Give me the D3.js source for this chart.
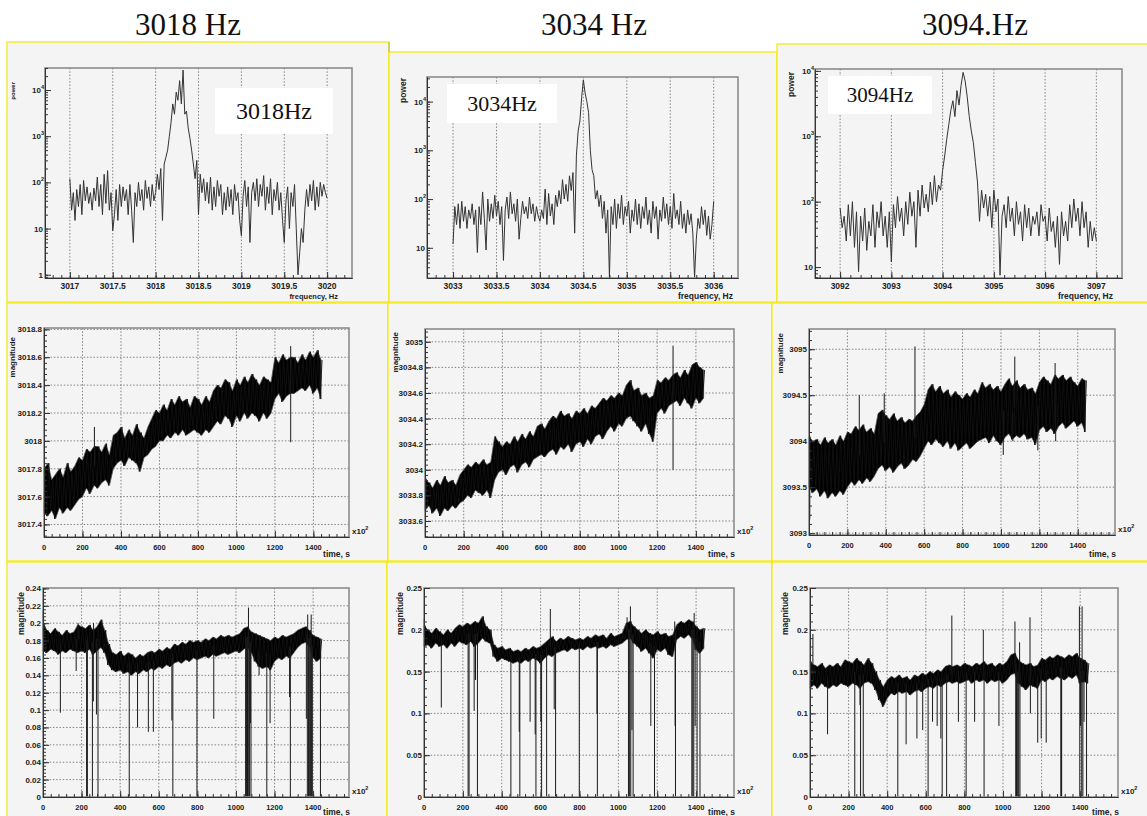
<!DOCTYPE html>
<html><head><meta charset="utf-8">
<script src="https://cdn.jsdelivr.net/npm/d3@7"></script>
<style>
body{margin:0;background:#fff;}
svg text{font-family:"Liberation Sans",Arial,sans-serif;}
</style></head><body>
<script>
// ---------------- DATA ----------------
const titles = ["3018 Hz", "3034 Hz", "3094.Hz"];
const boxLabels = ["3018Hz", "3034Hz", "3094Hz"];

// power spectra (equally spaced frequency bins)
const spec1Start = 3017.0, spec1Step = 0.02;
const spec1 = [120,25,60,15,70,30,90,20,110,40, 80,35,60,25,75,40,130,30,90,20,
 150,35,180,25,60,9,20,70,15,90, 30,80,40,70,20,90,25,5,60,30,
 100,40,70,25,110,45,80,30,90,40, 60,150,70,200,15,250,350,500,1000,2000,
 5000,3000,9000,6000,16000,5000,27000,3000,3500,1500, 900,500,250,120,300,20,150,60,120,40,
 100,35,130,25,80,30,110,50,90,20, 60,25,80,30,70,20,90,40,60,15,
 7,50,110,30,80,5,60,100,40,120, 30,90,50,140,25,80,35,120,20,70,
 40,100,25,60,15,5,40,80,10,60, 30,90,10,1,3,10,5,25,70,30,
 90,40,110,25,80,30,100,50,90,60, 45];
const spec2Start = 3033.0, spec2Step = 0.02;
const spec2 = [12,70,30,80,25,90,35,70,25,60, 40,80,30,60,8,70,30,140,40,9,
 100,35,80,40,120,45,90,30,70,5.5, 60,110,40,140,50,80,35,100,15,40,
 90,50,70,40,110,50,80,35,70,45, 35,60,40,160,30,130,45,80,30,120,
 70,150,80,250,100,200,90,300,150,350, 20,800,2500,4000,12000,28000,15000,10000,6000,1000,
 400,300,100,150,70,120,40,90,20,60, 2.5,70,30,100,25,80,40,120,30,70,
 45,90,20,60,35,100,30,80,25,70, 40,110,30,60,20,90,40,70,15,60,
 35,110,40,80,30,70,25,130,40,60, 30,90,25,50,20,60,30,50,20,2.5,
 15,40,25,70,30,60,18,45,15,30, 90];
const spec3Start = 3092.0, spec3Step = 0.04;
const spec3 = [80,40,60,25,90,30,100,20,70,8.5, 60,25,80,18,50,30,90,20,70,40,
 100,30,60,20,70,12,90,40,120,50, 80,30,100,45,140,60,100,20,150,60,
 180,80,130,70,200,90,250,100,180,150, 300,500,900,1500,2500,3500,2000,5000,3000,6000,
 9500,7000,4000,2000,1200,800,400,200,50,150, 80,130,60,120,40,150,70,110,7.5,60,
 90,40,120,50,80,30,100,45,70,25, 90,40,80,30,60,45,70,30,90,50,
 60,25,80,35,50,20,60,11,70,30, 50,25,90,40,110,50,80,30,100,40,
 70,20,50,25,40,25];

// time bins (x100 s) and band envelopes (low / high) per bin
const timeBins = d3.range(0, 1441, 20);
const f1Hi = [3017.80,3017.84,3017.72,3017.76,3017.80,3017.74,3017.84,3017.78,3017.82,3017.88,
3017.86,3017.94,3017.92,3017.96,3017.96,3017.92,3017.98,3017.90,3018.04,3018.06,
3018.10,3018.02,3018.08,3018.04,3018.12,3018.06,3018.02,3018.10,3018.16,3018.22,
3018.20,3018.26,3018.22,3018.30,3018.26,3018.32,3018.28,3018.30,3018.24,3018.32,
3018.30,3018.26,3018.32,3018.28,3018.36,3018.40,3018.38,3018.44,3018.42,3018.36,
3018.44,3018.40,3018.46,3018.42,3018.48,3018.44,3018.40,3018.46,3018.44,3018.42,
3018.60,3018.56,3018.62,3018.58,3018.60,3018.60,3018.56,3018.62,3018.58,3018.64,
3018.60,3018.65,3018.58];
const f1Lo = [3017.48,3017.46,3017.50,3017.44,3017.52,3017.48,3017.52,3017.50,3017.54,3017.58,
3017.60,3017.66,3017.62,3017.68,3017.66,3017.70,3017.72,3017.68,3017.80,3017.84,
3017.86,3017.82,3017.88,3017.86,3017.84,3017.78,3017.88,3017.90,3017.94,3017.96,
3018.00,3018.00,3018.04,3018.02,3018.06,3018.04,3018.08,3018.04,3018.06,3018.08,
3018.06,3018.04,3018.08,3018.06,3018.10,3018.14,3018.12,3018.18,3018.16,3018.10,
3018.18,3018.14,3018.20,3018.16,3018.20,3018.18,3018.14,3018.20,3018.16,3018.20,
3018.30,3018.34,3018.28,3018.32,3018.34,3018.34,3018.36,3018.38,3018.36,3018.40,
3018.34,3018.38,3018.30];
const f1Spikes = [[262,3018.10],[1282,3017.99],[1282,3018.68]];

const f2Hi = [3033.93,3033.90,3033.86,3033.92,3033.88,3033.95,3033.90,3033.92,3033.88,3033.96,
3034.00,3034.04,3034.02,3034.06,3034.04,3034.08,3034.04,3034.06,3034.26,3034.22,
3034.18,3034.22,3034.20,3034.26,3034.22,3034.28,3034.24,3034.30,3034.26,3034.34,
3034.36,3034.32,3034.38,3034.42,3034.40,3034.46,3034.42,3034.44,3034.40,3034.46,
3034.44,3034.48,3034.44,3034.50,3034.48,3034.52,3034.56,3034.54,3034.58,3034.56,
3034.60,3034.58,3034.66,3034.70,3034.62,3034.64,3034.58,3034.60,3034.56,3034.58,
3034.70,3034.68,3034.72,3034.70,3034.74,3034.76,3034.72,3034.78,3034.74,3034.82,
3034.84,3034.80,3034.78];
const f2Lo = [3033.68,3033.72,3033.66,3033.70,3033.64,3033.70,3033.68,3033.72,3033.70,3033.74,
3033.76,3033.80,3033.78,3033.84,3033.82,3033.80,3033.84,3033.78,3033.92,3033.98,
3034.00,3033.96,3034.02,3034.04,3033.98,3034.04,3034.06,3034.02,3034.08,3034.10,
3034.12,3034.10,3034.14,3034.16,3034.12,3034.18,3034.16,3034.20,3034.14,3034.20,
3034.22,3034.18,3034.24,3034.20,3034.26,3034.28,3034.24,3034.30,3034.34,3034.30,
3034.36,3034.34,3034.40,3034.42,3034.38,3034.34,3034.30,3034.36,3034.28,3034.22,
3034.44,3034.48,3034.44,3034.50,3034.52,3034.54,3034.50,3034.56,3034.52,3034.48,
3034.56,3034.52,3034.56];
const f2Spikes = [[1282,3034.0],[1282,3034.97]];

const f3Hi = [3094.05,3094.00,3094.02,3093.96,3094.04,3093.98,3094.02,3093.96,3094.06,3094.00,
3094.10,3094.08,3094.16,3094.12,3094.18,3094.10,3094.14,3094.08,3094.30,3094.34,
3094.28,3094.24,3094.30,3094.22,3094.26,3094.20,3094.24,3094.22,3094.28,3094.32,
3094.40,3094.56,3094.62,3094.54,3094.60,3094.52,3094.56,3094.48,3094.54,3094.50,
3094.46,3094.52,3094.48,3094.56,3094.52,3094.64,3094.58,3094.62,3094.56,3094.60,
3094.54,3094.62,3094.68,3094.60,3094.66,3094.58,3094.62,3094.56,3094.58,3094.52,
3094.64,3094.70,3094.66,3094.62,3094.72,3094.68,3094.72,3094.66,3094.70,3094.64,
3094.60,3094.68,3094.66];
const f3Lo = [3093.50,3093.44,3093.48,3093.40,3093.46,3093.38,3093.44,3093.40,3093.46,3093.42,
3093.50,3093.56,3093.52,3093.58,3093.54,3093.60,3093.56,3093.62,3093.70,3093.74,
3093.68,3093.72,3093.66,3093.72,3093.76,3093.70,3093.74,3093.80,3093.78,3093.84,
3093.92,3094.00,3093.96,3094.02,3093.98,3093.94,3094.00,3093.92,3093.98,3093.90,
3093.94,3093.98,3093.92,3093.96,3094.00,3094.02,3094.04,3093.98,3094.06,3094.00,
3093.96,3094.04,3094.08,3094.02,3094.06,3094.04,3094.08,3094.02,3094.04,3093.96,
3094.12,3094.16,3094.10,3094.14,3094.08,3094.16,3094.20,3094.14,3094.18,3094.22,
3094.16,3094.20,3094.10];
const f3Spikes = [[2,3094.4],[4,3093.15],[262,3094.5],[392,3094.52],[552,3095.03],[1012,3093.85],
 [1062,3094.0],[1072,3094.92],[1192,3093.9],[1282,3094.85],[1285,3094.0]];

const m1Hi = [0.200,0.192,0.188,0.194,0.190,0.186,0.192,0.188,0.190,0.198,
0.196,0.194,0.198,0.192,0.196,0.204,0.192,0.176,0.166,0.164,
0.168,0.162,0.166,0.164,0.160,0.164,0.162,0.166,0.168,0.166,
0.170,0.168,0.172,0.170,0.176,0.174,0.178,0.176,0.180,0.178,
0.180,0.178,0.182,0.180,0.184,0.182,0.186,0.184,0.186,0.184,
0.186,0.188,0.194,0.196,0.190,0.188,0.186,0.184,0.182,0.180,
0.184,0.182,0.186,0.184,0.186,0.188,0.192,0.194,0.196,0.192,
0.186,0.184,0.182];
const m1Lo = [0.168,0.166,0.170,0.168,0.164,0.168,0.166,0.170,0.168,0.166,
0.168,0.166,0.170,0.164,0.168,0.172,0.166,0.152,0.146,0.144,
0.146,0.142,0.144,0.140,0.144,0.142,0.146,0.144,0.148,0.146,
0.150,0.148,0.152,0.150,0.154,0.156,0.154,0.158,0.156,0.160,
0.158,0.160,0.162,0.160,0.164,0.162,0.164,0.166,0.164,0.166,
0.168,0.166,0.170,0.172,0.166,0.156,0.150,0.148,0.150,0.146,
0.156,0.160,0.158,0.162,0.160,0.166,0.172,0.176,0.178,0.174,
0.160,0.156,0.160];
const m1Spikes = [[0,0.215],[90,0.097],[172,0.145],[182,0.2],[226,0],[230,0],[256,0],[261,0.11],[262,0.2],
 [277,0.095],[285,0],[447,0],[490,0.08],[546,0.075],[572,0.075],[668,0.088],[673,0],[798,0],[885,0.09],
 [1050,0],[1055,0],[1060,0],[1065,0.218],[1066,0],[1070,0],[1075,0.085],[1078,0],[1120,0.14],[1160,0],
 [1177,0.085],[1278,0.115],[1282,0],[1365,0.09],[1370,0],[1372,0.21],[1376,0],[1382,0],[1386,0],
 [1390,0.21],[1392,0],[1396,0],[1438,0]];

const m2Hi = [0.205,0.200,0.196,0.202,0.198,0.194,0.200,0.196,0.202,0.206,
0.204,0.208,0.206,0.210,0.208,0.216,0.204,0.200,0.182,0.178,
0.180,0.176,0.178,0.174,0.176,0.174,0.178,0.176,0.180,0.178,
0.180,0.184,0.188,0.192,0.186,0.190,0.188,0.192,0.190,0.188,
0.190,0.188,0.192,0.190,0.194,0.192,0.194,0.190,0.196,0.192,
0.194,0.196,0.208,0.210,0.204,0.200,0.196,0.200,0.196,0.194,
0.198,0.194,0.196,0.192,0.194,0.206,0.210,0.208,0.212,0.210,
0.204,0.200,0.202];
const m2Lo = [0.180,0.182,0.178,0.184,0.180,0.182,0.178,0.184,0.180,0.186,
0.184,0.182,0.186,0.180,0.184,0.190,0.186,0.184,0.168,0.162,
0.166,0.164,0.162,0.160,0.162,0.160,0.164,0.162,0.166,0.164,
0.160,0.166,0.170,0.168,0.172,0.174,0.176,0.174,0.178,0.176,
0.178,0.176,0.180,0.178,0.180,0.178,0.180,0.178,0.182,0.180,
0.182,0.184,0.188,0.190,0.184,0.180,0.174,0.178,0.172,0.166,
0.176,0.174,0.178,0.170,0.168,0.188,0.192,0.190,0.194,0.190,
0.176,0.172,0.178];
const m2Spikes = [[0,0.213],[89,0.107],[227,0],[232,0],[258,0.103],[265,0.14],[275,0],[447,0],[490,0.078],
 [493,0],[546,0.09],[572,0.075],[576,0],[601,0.09],[605,0],[631,0],[650,0.225],[670,0.105],[677,0],
 [799,0],[890,0.1],[892,0],[1045,0.215],[1052,0],[1058,0],[1062,0.228],[1064,0],[1070,0.08],[1076,0],
 [1167,0.085],[1186,0],[1290,0.21],[1292,0.085],[1294,0],[1378,0],[1383,0],[1388,0],[1390,0.22],
 [1395,0.085],[1405,0],[1420,0]];

const m3Hi = [0.162,0.158,0.156,0.160,0.154,0.158,0.156,0.160,0.156,0.164,
0.162,0.160,0.166,0.162,0.158,0.166,0.160,0.150,0.140,0.132,
0.140,0.144,0.142,0.146,0.142,0.144,0.140,0.146,0.144,0.148,
0.146,0.150,0.148,0.152,0.150,0.156,0.158,0.156,0.158,0.156,
0.160,0.158,0.156,0.160,0.158,0.162,0.158,0.160,0.156,0.160,
0.158,0.162,0.170,0.172,0.164,0.160,0.158,0.160,0.156,0.158,
0.166,0.164,0.168,0.166,0.170,0.168,0.166,0.170,0.168,0.172,
0.166,0.164,0.160];
const m3Lo = [0.130,0.134,0.130,0.136,0.132,0.130,0.134,0.132,0.136,0.134,
0.132,0.136,0.134,0.130,0.136,0.138,0.136,0.128,0.116,0.108,
0.118,0.124,0.122,0.126,0.124,0.126,0.122,0.126,0.128,0.126,
0.130,0.132,0.130,0.134,0.132,0.136,0.138,0.136,0.138,0.136,
0.138,0.140,0.136,0.140,0.138,0.140,0.136,0.140,0.138,0.140,
0.136,0.140,0.146,0.148,0.136,0.132,0.128,0.134,0.132,0.130,
0.140,0.138,0.142,0.140,0.144,0.142,0.140,0.144,0.142,0.146,
0.136,0.138,0.136];
const m3Spikes = [[15,0.195],[91,0.075],[232,0],[259,0.11],[262,0],[276,0],[455,0],[498,0.063],[554,0.07],
 [584,0.08],[612,0],[635,0.09],[659,0.085],[678,0.07],[685,0],[708,0],[735,0.217],[769,0.09],[809,0],
 [853,0.09],[898,0.2],[902,0],[979,0.085],[1062,0.21],[1066,0],[1070,0],[1074,0],[1078,0],[1082,0],
 [1086,0.185],[1088,0],[1140,0.215],[1142,0.1],[1180,0.065],[1198,0.07],[1224,0.065],[1300,0],[1302,0],
 [1304,0],[1396,0.228],[1398,0],[1402,0.085],[1408,0],[1410,0.228],[1414,0],[1420,0.09],[1433,0]];

// tick labels
const specTicks1 = [3017,3017.5,3018,3018.5,3019,3019.5,3020];
const specTicks2 = [3033,3033.5,3034,3034.5,3035,3035.5,3036];
const specTicks3 = [3092,3093,3094,3095,3096,3097];
const timeTicks = [0,200,400,600,800,1000,1200,1400];
const fTicks1 = [3017.4,3017.6,3017.8,3018,3018.2,3018.4,3018.6,3018.8];
const fTicks2 = [3033.6,3033.8,3034,3034.2,3034.4,3034.6,3034.8,3035];
const fTicks3 = [3093,3093.5,3094,3094.5,3095];
const mTicks1 = [0,0.02,0.04,0.06,0.08,0.1,0.12,0.14,0.16,0.18,0.2,0.22,0.24];
const mTicks2 = [0,0.05,0.1,0.15,0.2,0.25];

// ---------------- DRAWING ----------------
const W = 1147, H = 816;
const svg = d3.select("body").append("svg").attr("width", W).attr("height", H);

const pads = [[7,42,389,302],[389,52,777,302],[777,44,1150,302],
              [7,303,388,561],[388,303,772,561],[772,303,1150,561],
              [7,562,387,830],[387,562,772,830],[772,562,1150,830]];
pads.forEach(p => svg.append("rect").attr("x",p[0]).attr("y",p[1]).attr("width",p[2]-p[0]).attr("height",p[3]-p[1])
  .attr("fill","#f4f4f4").attr("stroke","#f2ea00").attr("stroke-width",1.2));
svg.append("line").attr("x1",389).attr("x2",389).attr("y1",42).attr("y2",52).attr("stroke","#b8b060");

[188, 594, 975].forEach((cx,i) => svg.append("text").attr("x",cx).attr("y",35).attr("text-anchor","middle")
  .style("font-family","'Liberation Serif','Times New Roman',serif").style("font-size","31px").attr("fill","#111").text(titles[i]));

const rnd = v => +(+v).toFixed(3);
function minorRange(a, b, s) { return d3.range(Math.ceil(a/s - 1e-9)*s, b + 1e-9, s).map(rnd); }
function logMinor(d) {
  const out = [];
  for (let e = Math.floor(Math.log10(d[0])); e <= Math.ceil(Math.log10(d[1])); e++)
    for (let k = 1; k <= 9; k++) { const v = k * Math.pow(10, e); if (v >= d[0] && v <= d[1]) out.push(v); }
  return out;
}

function panel(c) {
  const x = d3.scaleLinear().domain(c.xd).range([c.x0, c.x1]);
  const y = (c.log ? d3.scaleLog() : d3.scaleLinear()).domain(c.yd).range([c.y1, c.y0]).clamp(true);
  const g = svg.append("g");
  const grid = g.append("g").attr("stroke","#555").attr("stroke-width",0.7).attr("stroke-dasharray","1.5,1.8");
  grid.selectAll("line.v").data(c.xMaj.filter(v => x(v) > c.x0 + 1 && x(v) < c.x1 - 1)).join("line")
    .attr("x1", d => x(d)).attr("x2", d => x(d)).attr("y1", c.y0).attr("y2", c.y1);
  if (c.hgrid) grid.selectAll("line.h").data(c.yMaj.filter(v => y(v) > c.y0 + 1 && y(v) < c.y1 - 1)).join("line")
    .attr("y1", d => y(d)).attr("y2", d => y(d)).attr("x1", c.x0).attr("x2", c.x1);
  const data = g.append("g");
  return Object.assign({}, c, {x, y, g, data});
}

function finish(P) {
  const g = P.g.append("g");
  g.append("rect").attr("x",P.x0).attr("y",P.y0).attr("width",P.x1-P.x0).attr("height",P.y1-P.y0)
    .attr("fill","none").attr("stroke","#8c8c8c").attr("stroke-width",1.6);
  const ab = g.append("g").attr("transform",`translate(0,${P.y1})`);
  ab.call(d3.axisBottom(P.x).tickValues(P.xMaj).tickSize(-6).tickSizeOuter(0).tickFormat(""));
  ab.append("g").call(d3.axisBottom(P.x).tickValues(P.xMin).tickSize(-3).tickSizeOuter(0).tickFormat(""));
  const al = g.append("g").attr("transform",`translate(${P.x0},0)`);
  al.call(d3.axisLeft(P.y).tickValues(P.yMaj).tickSize(-6).tickSizeOuter(0).tickFormat(""));
  al.append("g").call(d3.axisLeft(P.y).tickValues(P.yMin).tickSize(-3).tickSizeOuter(0).tickFormat(""));
  g.selectAll(".domain").attr("stroke","#333").attr("stroke-width",1);
  g.selectAll(".tick line").attr("stroke","#333").attr("stroke-width",1);
  g.selectAll("text.xl").data(P.xMaj).join("text").attr("x", d => P.x(d)).attr("y", P.y1 + P.xlDy)
    .attr("text-anchor","middle").style("font-size", P.xlFs + "px").style("font-weight","bold").attr("fill","#222")
    .text(d => String(d));
  P.yMaj.forEach(v => {
    const t = g.append("text").attr("x", P.x0 - 2).attr("y", P.y(v) + 3).attr("text-anchor","end")
      .style("font-size","8px").style("font-weight","bold").attr("fill","#222");
    if (P.log) {
      const e = Math.round(Math.log10(v));
      if (e <= 1) t.text(String(v));
      else { t.append("tspan").text("10"); t.append("tspan").attr("dy",-4).style("font-size","5.5px").text(String(e)); t.attr("x", P.x0 - 1); }
    } else t.text(String(v));
  });
  g.append("text").attr("transform",`translate(${P.ytX},${P.ytY}) rotate(-90)`).attr("text-anchor","end")
    .style("font-size", P.ytFs + "px").style("font-weight","bold").attr("fill","#222").text(P.yTitle);
  g.append("text").attr("x", P.xtX).attr("y", P.xtY).attr("text-anchor","end")
    .style("font-size", P.xtFs + "px").style("font-weight","bold").attr("fill","#222").text(P.xTitle);
  if (P.x100) {
    const t = g.append("text").attr("x", P.x1 + 3).attr("y", P.y1 - 3).style("font-size","8px").style("font-weight","bold").attr("fill","#222");
    t.append("tspan").text("x10"); t.append("tspan").attr("dy",-4).style("font-size","5.5px").text("2");
  }
}

function drawSpectrum(P, start, step, vals) {
  P.data.append("path").datum(vals).attr("fill","none").attr("stroke","#333").attr("stroke-width",1)
    .attr("d", d3.line().x((d,i) => P.x(start + i*step)).y(d => P.y(d)));
}

function drawBand(P, t, lo, hi, spikes) {
  const idx = d3.range(t.length);
  P.data.append("path").datum(idx).attr("fill","#000").attr("stroke","#555").attr("stroke-width",0.8)
    .attr("d", d3.area().x(i => P.x(t[i])).y0(i => P.y(lo[i])).y1(i => P.y(hi[i])));
  const zz = [];
  t.forEach((tt,i) => { zz.push([Math.max(0, tt-5), lo[i]]); zz.push([tt+5, hi[i]]); });
  P.data.append("path").datum(zz).attr("fill","none").attr("stroke","#111").attr("stroke-width",0.9)
    .attr("d", d3.line().x(d => P.x(d[0])).y(d => P.y(d[1])));
  P.data.selectAll("line.sp").data(spikes).join("line")
    .attr("x1", d => P.x(d[0])).attr("x2", d => P.x(d[0]))
    .attr("y1", d => { const i = d3.bisectCenter(t, d[0]); return P.y((lo[i] + hi[i]) / 2); })
    .attr("y2", d => P.y(d[1])).attr("stroke","#1a1a1a").attr("stroke-width",1);
}

function box(x0, y0, x1, y1, fs, label) {
  svg.append("rect").attr("x",x0).attr("y",y0).attr("width",x1-x0).attr("height",y1-y0).attr("fill","#fff");
  svg.append("text").attr("x",(x0+x1)/2).attr("y",y0 + (y1-y0)/2 + fs*0.34).attr("text-anchor","middle")
    .style("font-family","'Liberation Serif','Times New Roman',serif").style("font-size",fs+"px").attr("fill","#111").text(label);
}

const specCommon = {log:true, hgrid:false, yTitle:"power", xTitle:"frequency, Hz", xlDy:11, xlFs:8.5};
// Top row
let P = panel(Object.assign({}, specCommon, {x0:45,x1:352,y0:68,y1:278, xd:[3016.71,3020.29], yd:[0.85,30000],
  xMaj:specTicks1, xMin:minorRange(3016.71,3020.29,0.1), yMaj:[1,10,100,1000,10000], yMin:logMinor([0.85,30000]),
  ytX:15, ytY:82, ytFs:6, xtX:338, xtY:299, xtFs:7.5}));
drawSpectrum(P, spec1Start, spec1Step, spec1); finish(P);
box(215,88,333,134,24,boxLabels[0]);

P = panel(Object.assign({}, specCommon, {x0:427,x1:738,y0:77,y1:278, xd:[3032.70,3036.28], yd:[2.4,32000],
  xMaj:specTicks2, xMin:minorRange(3032.70,3036.28,0.1), yMaj:[10,100,1000,10000], yMin:logMinor([2.4,32000]),
  ytX:406, ytY:78, ytFs:8.5, xtX:733, xtY:299, xtFs:8.5}));
drawSpectrum(P, spec2Start, spec2Step, spec2); finish(P);
box(447,84,557,123,22,boxLabels[1]);

P = panel(Object.assign({}, specCommon, {x0:815,x1:1122,y0:69,y1:278, xd:[3091.51,3097.5], yd:[6.8,10700],
  xMaj:specTicks3, xMin:minorRange(3091.51,3097.5,0.2), yMaj:[10,100,1000,10000], yMin:logMinor([6.8,10700]),
  ytX:794, ytY:72, ytFs:8.5, xtX:1113, xtY:299, xtFs:8.5}));
drawSpectrum(P, spec3Start, spec3Step, spec3); finish(P);
box(828,76,932,114,21,boxLabels[2]);

// Middle row
const tsCommon = {log:false, hgrid:true, yTitle:"magnitude", xTitle:"time, s", xlDy:13, xlFs:7.5, x100:true, xMaj:timeTicks};
P = panel(Object.assign({}, tsCommon, {x0:44,x1:349,y0:328,y1:537, xd:[0,1585], yd:[3017.31,3018.81],
  xMin:minorRange(0,1585,40), yMaj:fTicks1, yMin:minorRange(3017.31,3018.81,0.04),
  ytX:15, ytY:337, ytFs:8, xtX:350, xtY:557, xtFs:8.5}));
drawBand(P, timeBins, f1Lo, f1Hi, f1Spikes); finish(P);

P = panel(Object.assign({}, tsCommon, {x0:425,x1:734,y0:329,y1:537, xd:[0,1597], yd:[3033.475,3035.10],
  xMin:minorRange(0,1597,40), yMaj:fTicks2, yMin:minorRange(3033.475,3035.10,0.04),
  ytX:398, ytY:332, ytFs:8, xtX:735, xtY:557, xtFs:8.5}));
drawBand(P, timeBins, f2Lo, f2Hi, f2Spikes); finish(P);

P = panel(Object.assign({}, tsCommon, {x0:809,x1:1115,y0:329,y1:535, xd:[0,1594], yd:[3092.98,3095.22],
  xMin:minorRange(0,1594,40), yMaj:fTicks3, yMin:minorRange(3092.98,3095.22,0.1),
  ytX:783, ytY:333, ytFs:8, xtX:1116, xtY:557, xtFs:8.5}));
drawBand(P, timeBins, f3Lo, f3Hi, f3Spikes); finish(P);

// Bottom row
P = panel(Object.assign({}, tsCommon, {x0:43,x1:349,y0:588,y1:797, xd:[0,1586], yd:[0,0.2405],
  xMin:minorRange(0,1586,40), yMaj:mTicks1, yMin:minorRange(0,0.2405,0.004),
  ytX:24, ytY:592, ytFs:8.5, xtX:350, xtY:815, xtFs:8.5}));
drawBand(P, timeBins, m1Lo, m1Hi, m1Spikes); finish(P);

P = panel(Object.assign({}, tsCommon, {x0:424,x1:734,y0:588,y1:797, xd:[0,1595], yd:[0,0.25],
  xMin:minorRange(0,1595,40), yMaj:mTicks2, yMin:minorRange(0,0.25,0.01),
  ytX:403, ytY:592, ytFs:8.5, xtX:735, xtY:815, xtFs:8.5}));
drawBand(P, timeBins, m2Lo, m2Hi, m2Spikes); finish(P);

P = panel(Object.assign({}, tsCommon, {x0:810,x1:1118,y0:588,y1:797, xd:[0,1596], yd:[0,0.25],
  xMin:minorRange(0,1596,40), yMaj:mTicks2, yMin:minorRange(0,0.25,0.01),
  ytX:788, ytY:592, ytFs:8.5, xtX:1119, xtY:815, xtFs:8.5}));
drawBand(P, timeBins, m3Lo, m3Hi, m3Spikes); finish(P);
</script>
</body></html>
